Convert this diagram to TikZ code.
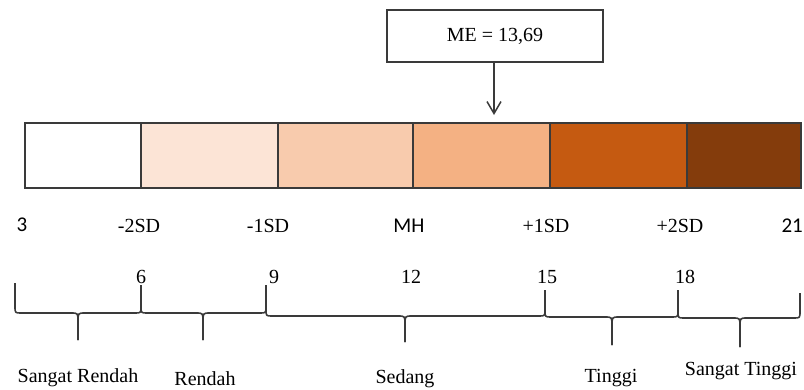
\documentclass[tikz,border=0pt]{standalone}
\usepackage{fontspec}
\setmainfont{Liberation Serif}
\newfontfamily\calfont{Carlito}
\usetikzlibrary{arrows.meta}
\definecolor{lineC}{HTML}{3A3A3A}
\definecolor{c1}{HTML}{FFFFFF}
\definecolor{c2}{HTML}{FCE4D6}
\definecolor{c3}{HTML}{F8CBAD}
\definecolor{c4}{HTML}{F4B183}
\definecolor{c5}{HTML}{C55A11}
\definecolor{c6}{HTML}{843C0C}
\tikzset{
  seg/.style={draw=lineC, line width=1.5pt, inner sep=0pt, minimum height=65pt, anchor=north west},
  lbl/.style={anchor=base, inner sep=0pt, font=\fontsize{20}{24}\selectfont},
  clbl/.style={anchor=base, inner sep=0pt, font=\calfont\fontsize{21}{25}\selectfont},
  brc/.style={draw=lineC, line width=1.6pt, line join=round},
}
% brace: x1, x2, xm, top1, line, tip, top2
\newcommand{\mybrace}[7]{%
  \draw[brc] (#1,#4) -- (#1,#5-7) .. controls (#1,#5) and (#1,#5) .. (#1+6,#5)
    -- (#3-7,#5) .. controls (#3,#5) and (#3,#5) .. (#3,#5+9) -- (#3,#6);
  \draw[brc] (#3,#6) -- (#3,#5+9) .. controls (#3,#5) and (#3,#5) .. (#3+7,#5)
    -- (#2-6,#5) .. controls (#2,#5) and (#2,#5) .. (#2,#5-7) -- (#2,#7);
}
\begin{document}
\begin{tikzpicture}[x=1pt, y=-1pt]
\useasboundingbox (0,0) rectangle (804,389);
% bar
\node[seg, fill=c1, minimum width=116pt] (s1) at (24,122) {};
\node[seg, fill=c2, minimum width=137pt] (s2) at (140,122) {};
\node[seg, fill=c3, minimum width=135pt] (s3) at (277,122) {};
\node[seg, fill=c4, minimum width=137pt] (s4) at (412,122) {};
\node[seg, fill=c5, minimum width=137pt] (s5) at (549,122) {};
\node[seg, fill=c6, minimum width=114pt] (s6) at (686,122) {};
% ME box
\node[draw=lineC, line width=1.5pt, minimum width=216pt, minimum height=52pt, inner sep=0pt,
      font=\fontsize{20}{24}\selectfont] (me) at (495,36) {ME = 13,69};
\coordinate (arrtip) at (494,115);
\draw[lineC, line width=1.5pt, -{Straight Barb[length=12pt,width=14pt]}] (me.south -| arrtip) -- (arrtip);
% top row
\node[clbl] (t3) at (22,231) {3};
\node[lbl] (tm2) at (139,232) {-2SD};
\node[lbl] (tm1) at (268,232) {-1SD};
\node[clbl] (tmh) at (409,232) {MH};
\node[lbl] (tp1) at (546,232) {+1SD};
\node[lbl] (tp2) at (680,232) {+2SD};
\node[clbl, anchor=base east] (t21) at (803,232) {21};
% numbers
\node[lbl] (n6) at (141,283) {6};
\node[lbl] (n9) at (274,283) {9};
\node[lbl] (n12) at (411,283) {12};
\node[lbl] (n15) at (547,283) {15};
\node[lbl] (n18) at (685,283) {18};
% braces
\mybrace{15}{141}{78}{283}{313}{340}{285}
\mybrace{141}{266}{203}{285}{313}{340}{285}
\mybrace{266}{545}{405}{285}{316}{342}{290}
\mybrace{545}{678}{612}{290}{317}{345}{290}
\mybrace{678}{800}{740}{290}{318}{347}{293}
% category labels
\node[lbl] (l1) at (78,382) {Sangat Rendah};
\node[lbl] (l2) at (205,385) {Rendah};
\node[lbl] (l3) at (405,383) {Sedang};
\node[lbl] (l4) at (611,382) {Tinggi};
\node[lbl] (l5) at (741,375) {Sangat Tinggi};
\end{tikzpicture}
\end{document}
